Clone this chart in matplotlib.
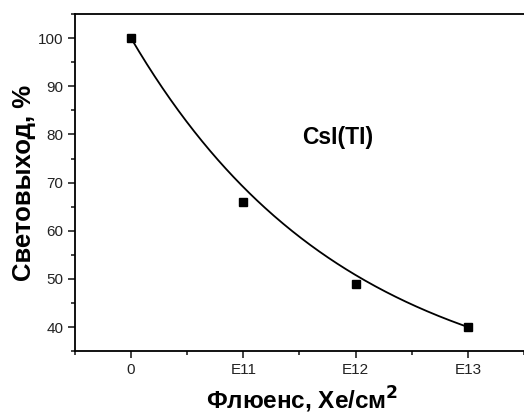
import numpy as np
import matplotlib.pyplot as plt
from matplotlib.ticker import MultipleLocator

plt.rcParams['font.family'] = ['Liberation Sans', 'DejaVu Sans']

# light yield vs Xe ion fluence
fluence_labels = ['0', 'E11', 'E12', 'E13']
fluence_pos = [0, 1, 2, 3]
light_yield = [100, 66, 49, 40]

# exponential decay y = y0 + A*exp(-x/t), pinned to the first and last points
decay_t = 1.9
x0, x1 = fluence_pos[0], fluence_pos[-1]
e0, e1 = np.exp(-x0 / decay_t), np.exp(-x1 / decay_t)
amp = (light_yield[0] - light_yield[-1]) / (e0 - e1)
y0 = light_yield[0] - amp * e0
x_fit = np.linspace(x0, x1, 300)
y_fit = y0 + amp * np.exp(-x_fit / decay_t)

fig = plt.figure(figsize=(5.24, 4.15), dpi=100)
ax = fig.add_axes([0.143, 0.154, 0.857, 0.812])

ax.plot(x_fit, y_fit, color='black', linewidth=1.3)
ax.plot(fluence_pos, light_yield, 's', color='black', markersize=5.5, zorder=3)

ax.set_xlim(-0.5, 3.5)
ax.set_ylim(35, 105)
ax.set_xticks(fluence_pos)
ax.set_xticklabels(fluence_labels)
ax.xaxis.set_minor_locator(MultipleLocator(0.5))
ax.yaxis.set_major_locator(MultipleLocator(10))
ax.yaxis.set_minor_locator(MultipleLocator(5))
ax.tick_params(which='both', direction='out', labelsize=11, colors='#222222', width=1.2)
ax.tick_params(which='major', length=5)
ax.tick_params(which='minor', length=3)

ax.spines['right'].set_visible(False)
for s in ['left', 'bottom', 'top']:
    ax.spines[s].set_linewidth(1.3)

ax.set_xlabel('Флюенс, Xe/см$^\\mathbf{2}$', fontsize=17.5, fontweight='bold')
ax.xaxis.label.set_va('baseline')
ax.xaxis.set_label_coords(0.507, -0.171)
ax.set_ylabel('Световыход, %', fontsize=18.5, fontweight='bold')
ax.yaxis.set_label_coords(-0.087, 0.5)

ax.text(1.84, 79.4, 'CsI(TI)', fontsize=16.5, fontweight='bold', ha='center', va='center')

fig.savefig('out.png', dpi=100)
